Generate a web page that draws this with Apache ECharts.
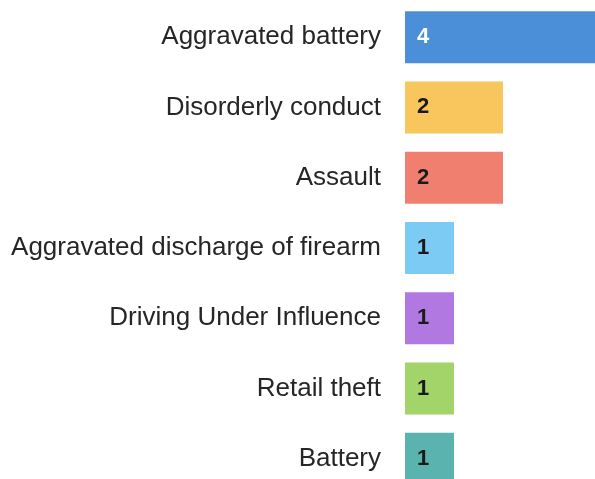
<!DOCTYPE html>
<html><head><meta charset="utf-8">
<script src="https://cdn.jsdelivr.net/npm/echarts@6/dist/echarts.min.js"></script>
<style>html,body{margin:0;padding:0;background:#fff;}#c{width:595px;height:479px;}</style>
</head><body><div id="c"></div>
<script>
const categories = ["Aggravated battery","Disorderly conduct","Assault","Aggravated discharge of firearm","Driving Under Influence","Retail theft","Battery"];
const values = [4,2,2,1,1,1,1];
const colors = ["#4a8fd8","#f8c65c","#f17f6f","#7ccbf5","#b078e0","#a2d46a","#5ab3ae"];
const labelColors = ["#ffffff","#1a1a1a","#1a1a1a","#1a1a1a","#1a1a1a","#1a1a1a","#1a1a1a"];
const chart = echarts.init(document.getElementById('c'));
chart.setOption({
  animation:false,
  grid:{left:405, top:2, width:196, height:492, containLabel:false, outerBoundsMode:'none'},
  xAxis:{type:'value', min:0, max:4, show:false},
  yAxis:{type:'category', inverse:true, data:categories,
    axisLine:{show:false}, axisTick:{show:false}, splitLine:{show:false},
    axisLabel:{margin:24, fontSize:26, color:'#262626', fontFamily:'Liberation Sans, Arial, sans-serif'}},
  series:[{type:'bar', barCategoryGap:'26%',
    data: values.map((v,i)=>({value:v,
      itemStyle:{color:colors[i]},
      label:{color:labelColors[i]}})),
    label:{show:true, position:'insideLeft', distance:12, fontSize:22, fontWeight:'bold', fontFamily:'Liberation Sans, Arial, sans-serif'}
  }]
});
</script></body></html>
